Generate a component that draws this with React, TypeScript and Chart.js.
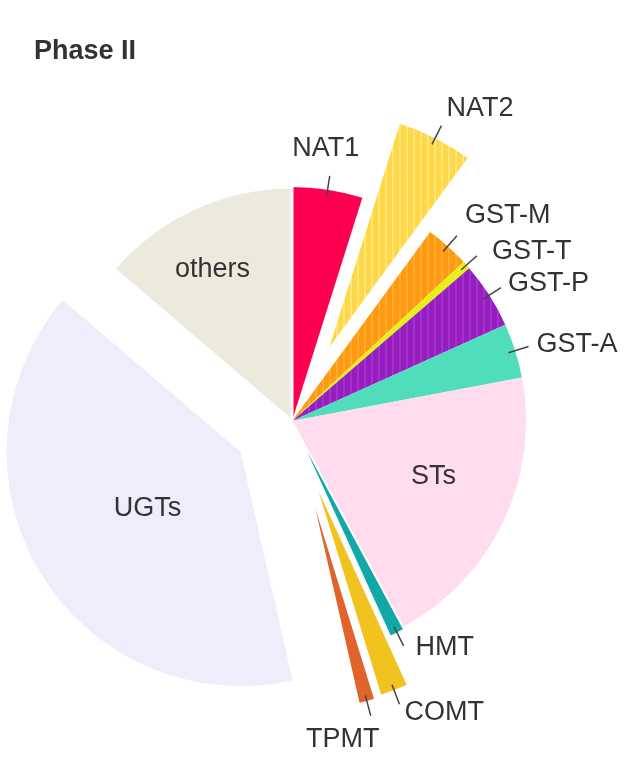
import React, { useEffect, useRef } from "react";
import { Chart, registerables } from "chart.js";

Chart.register(...registerables);

// ---- data ----
const categories = ["NAT1", "NAT2", "GST-M", "GST-T", "GST-P", "GST-A", "STs", "HMT", "COMT", "TPMT", "UGTs", "others"];
const shares = [4.86, 5.19, 3.06, 0.56, 4.58, 3.78, 20.1, 1.08, 2.04, 1.19, 39.81, 13.75];
const chartTitle = "Phase II";

// ---- styles ----
const baseColors = ["#FF0050", "#FFD848", "#FF9A10", "#E8F01A", "#961EBE", "#50DDBB", "#FFDCEE", "#12A8A8", "#F2C21E", "#E0642A", "#EDEDFB", "#ECEADC"];
const stripeColors = [null, "#FFE57A", "#FFAA30", null, "#A232CA", null, null, null, null, null, null, null];
const explodePx = [0, 83, 0, 0, 0, 0, 0, 3, 55, 57, 60, 0];
const borderPx = [0, 0, 0, 0, 0, 0, 0, 2, 2.5, 2.5, 0, 3];
const labelStyle: any[] = [
  { kind: "out", align: "center", dx: -4, dy: -27 },
  { kind: "out", align: "left", dx: 5, dy: -17 },
  { kind: "out", align: "left", dx: 8, dy: -20 },
  { kind: "out", align: "left", dx: 15, dy: -4 },
  { kind: "out", align: "left", dx: 7, dy: -4 },
  { kind: "out", align: "left", dx: 8, dy: -2 },
  { kind: "in", frac: 0.65, turn: -4 },
  { kind: "out", align: "left", dx: 12, dy: 2 },
  { kind: "out", align: "left", dx: 5, dy: 8 },
  { kind: "out", align: "center", dx: -28, dy: 24 },
  { kind: "in", frac: 0.465, turn: 0 },
  { kind: "in", frac: 0.73, turn: -3 },
];
const FONT = '"Liberation Sans", Arial, sans-serif';
const TEXT_COLOR = "#333333";

function makeFill(base: string, stripe: string | null): any {
  if (!stripe) return base;
  const c = document.createElement("canvas");
  c.width = 7;
  c.height = 4;
  const g = c.getContext("2d")!;
  g.fillStyle = base;
  g.fillRect(0, 0, 7, 4);
  g.fillStyle = stripe;
  g.fillRect(0, 0, 2, 4);
  const p = g.createPattern(c, "repeat");
  return p || base;
}

const explodePlugin = {
  id: "explodeSlices",
  afterDatasetUpdate(chart: any, args: any) {
    const meta = args.meta;
    meta.data.forEach((arc: any, i: number) => {
      const e = explodePx[i] || 0;
      if (!e) return;
      const mid = (arc.startAngle + arc.endAngle) / 2;
      arc.x = arc.x + Math.cos(mid) * e;
      arc.y = arc.y + Math.sin(mid) * e;
    });
  },
};

const labelPlugin = {
  id: "sliceLabels",
  afterDatasetsDraw(chart: any) {
    const ctx = chart.ctx;
    const meta = chart.getDatasetMeta(0);
    ctx.save();
    ctx.font = `27px ${FONT}`;
    ctx.fillStyle = TEXT_COLOR;
    ctx.strokeStyle = "#444444";
    ctx.lineWidth = 1.5;
    meta.data.forEach((arc: any, i: number) => {
      const st = labelStyle[i];
      const mid = (arc.startAngle + arc.endAngle) / 2;
      const R = arc.outerRadius;
      if (st.kind === "in") {
        const a = mid + (st.turn * Math.PI) / 180;
        const r = R * st.frac;
        ctx.textAlign = "center";
        ctx.textBaseline = "middle";
        ctx.fillText(categories[i], arc.x + Math.cos(a) * r, arc.y + Math.sin(a) * r);
      } else {
        const c = Math.cos(mid), s = Math.sin(mid);
        const x1 = arc.x + c * (R - 7), y1 = arc.y + s * (R - 7);
        const x2 = arc.x + c * (R + 14), y2 = arc.y + s * (R + 14);
        ctx.beginPath();
        ctx.moveTo(x1, y1);
        ctx.lineTo(x2, y2);
        ctx.stroke();
        ctx.textAlign = st.align;
        ctx.textBaseline = "middle";
        ctx.fillText(categories[i], x2 + st.dx, y2 + st.dy);
      }
    });
    ctx.restore();
  },
};

const titlePlugin = {
  id: "cornerTitle",
  afterDraw(chart: any) {
    const ctx = chart.ctx;
    ctx.save();
    ctx.font = `bold 27px ${FONT}`;
    ctx.fillStyle = TEXT_COLOR;
    ctx.textAlign = "left";
    ctx.textBaseline = "middle";
    ctx.fillText(chartTitle, 34, 52);
    ctx.restore();
  },
};

export default function App() {
  const ref = useRef<HTMLCanvasElement | null>(null);
  useEffect(() => {
    document.body.style.margin = "0";
    const canvas = ref.current!;
    const fills = baseColors.map((b, i) => makeFill(b, stripeColors[i]));
    const chart = new Chart(canvas, {
      type: "pie",
      data: {
        labels: categories,
        datasets: [
          {
            data: shares,
            backgroundColor: fills,
            borderColor: "#ffffff",
            borderWidth: borderPx,
          },
        ],
      },
      options: {
        animation: false,
        responsive: false,
        radius: 234,
        layout: { padding: { left: 0, right: 42, top: 85, bottom: 0 } },
        plugins: {
          legend: { display: false },
          tooltip: { enabled: false },
          title: { display: false },
        },
        events: [],
      } as any,
      plugins: [explodePlugin, labelPlugin, titlePlugin],
    });
    return () => chart.destroy();
  }, []);
  return (
    <div style={{ width: 626, height: 757, background: "#ffffff" }}>
      <canvas ref={ref} width={626} height={757} style={{ display: "block" }} />
    </div>
  );
}
